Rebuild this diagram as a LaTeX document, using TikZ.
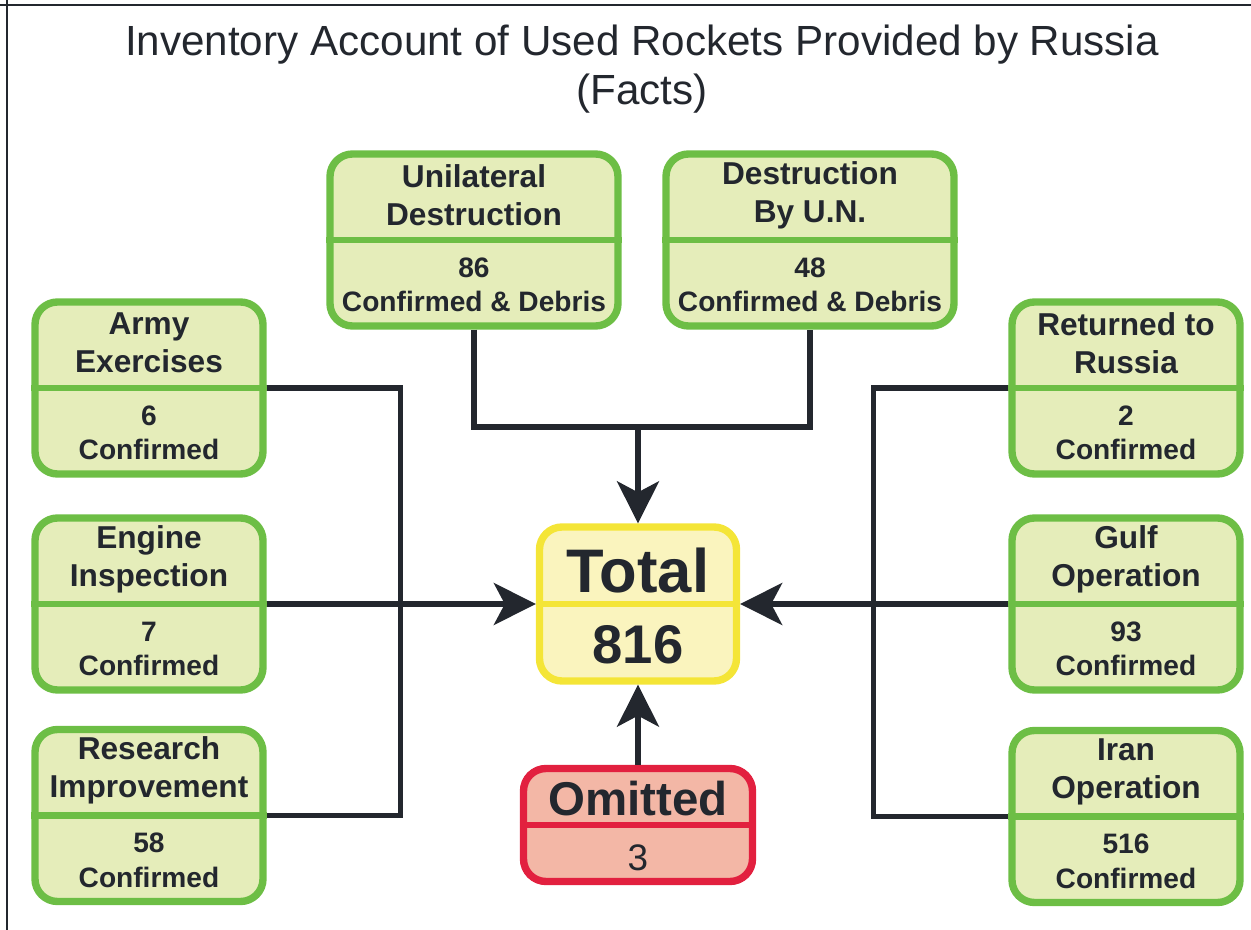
\documentclass[tikz,border=0pt]{standalone}
\usepackage{fontspec}
\setmainfont{Liberation Sans}
\usetikzlibrary{arrows.meta,calc}

\definecolor{ink}{HTML}{23272E}
\definecolor{leaf}{HTML}{6DBE45}
\definecolor{leaffill}{HTML}{E5EDBA}
\definecolor{sun}{HTML}{F4E537}
\definecolor{sunfill}{HTML}{FAF4BE}
\definecolor{alarm}{HTML}{E2203F}
\definecolor{alarmfill}{HTML}{F3B7A6}

\tikzset{
  greenbox/.style={draw=leaf, fill=leaffill, line width=4.2pt, rounded corners=0.45cm,
    minimum width=4.56cm, minimum height=3.44cm, inner sep=0pt},
  widebox/.style={greenbox, minimum width=5.76cm},
  greenrule/.style={draw=leaf, line width=3.5pt},
  boxhead/.style={font=\fontsize{18}{21.5}\selectfont\bfseries, align=center, text=ink},
  tally/.style={font=\fontsize{16}{19.5}\selectfont\bfseries, align=center, text=ink},
  link/.style={draw=ink, line width=3pt},
  feed/.style={link, -{Stealth[length=0.84cm, width=0.84cm, inset=0.22cm]}},
}

% one green fact box: name, style, position, heading, count
\newcommand{\factbox}[5]{%
  \node[#2] (#1) at (#3) {};
  \draw[greenrule] (#1.west) -- (#1.east);
  \node[boxhead] (#1-head) at ($(#1.center)!0.5!(#1.north)$) {#4};
  \node[tally] (#1-tally) at ($(#1.center)!0.5!(#1.south)$) {#5};
}

\begin{document}
\begin{tikzpicture}
  \useasboundingbox (0,0) rectangle (25.02,-18.6);
  % frame edges
  \draw[ink, line width=1.5pt] (0,-0.1) -- (25.02,-0.1);
  \draw[ink, line width=1.5pt] (0.14,0) -- (0.14,-18.6);

  \node[font=\fontsize{24}{28}\selectfont, align=center, text=ink] (title) at (12.84,-1.38)
    {Inventory Account of Used Rockets Provided by Russia\\(Facts)};

  \factbox{uni}{widebox}{9.48,-4.80}{Unilateral\\Destruction}{86\\Confirmed \& Debris}
  \factbox{un}{widebox}{16.20,-4.80}{Destruction\\By U.N.}{48\\Confirmed \& Debris}
  \factbox{army}{greenbox}{2.98,-7.76}{Army\\Exercises}{6\\Confirmed}
  \factbox{engine}{greenbox}{2.98,-12.08}{Engine\\Inspection}{7\\Confirmed}
  \factbox{research}{greenbox}{2.98,-16.31}{Research\\Improvement}{58\\Confirmed}
  \factbox{returned}{greenbox}{22.52,-7.76}{Returned to\\Russia}{2\\Confirmed}
  \factbox{gulf}{greenbox}{22.52,-12.08}{Gulf\\Operation}{93\\Confirmed}
  \factbox{iran}{greenbox}{22.52,-16.33}{Iran\\Operation}{516\\Confirmed}

  % total
  \node[draw=sun, fill=sunfill, line width=4.2pt, rounded corners=0.45cm,
    minimum width=3.94cm, minimum height=3.08cm] (total) at (12.76,-12.08) {};
  \draw[draw=sun, line width=3.5pt] (total.west) -- (total.east);
  \node[font=\fontsize{35}{40}\selectfont\bfseries, text=ink] (total-head)
    at ($(total.center)!0.5!(total.north)+(0,-0.14)$) {Total};
  \node[font=\fontsize{31}{36}\selectfont\bfseries, text=ink] (total-sum)
    at ($(total.center)!0.5!(total.south)$) {816};

  % omitted
  \node[draw=alarm, fill=alarmfill, line width=4.2pt, rounded corners=0.45cm,
    minimum width=4.58cm, minimum height=2.26cm] (omit) at (12.76,-16.50) {};
  \draw[draw=alarm, line width=3.5pt] (omit.west) -- (omit.east);
  \node[font=\fontsize{27}{32}\selectfont\bfseries, text=ink] (omit-head)
    at ($(omit.center)!0.5!(omit.north)+(0,-0.08)$) {Omitted};
  \node[font=\fontsize{21}{25}\selectfont, text=ink] (omit-sum)
    at ($(omit.center)!0.5!(omit.south)+(0,-0.05)$) {3};

  % connectors
  \coordinate (ljoin) at (8.01,-12.08);
  \coordinate (rjoin) at (17.47,-12.08);
  \coordinate (tjoin) at (12.76,-8.54);

  \draw[link] (army.east) -| (ljoin) |- (research.east);
  \draw[feed] (engine.east) -- (total.west);
  \draw[link] (returned.west) -| (rjoin) |- (iran.west);
  \draw[feed] (gulf.west) -- (total.east);
  \draw[link] (uni.south) |- (tjoin) -| (un.south);
  \draw[feed] (tjoin) -- (total.north);
  \draw[feed] (omit.north) -- (total.south);
\end{tikzpicture}
\end{document}
